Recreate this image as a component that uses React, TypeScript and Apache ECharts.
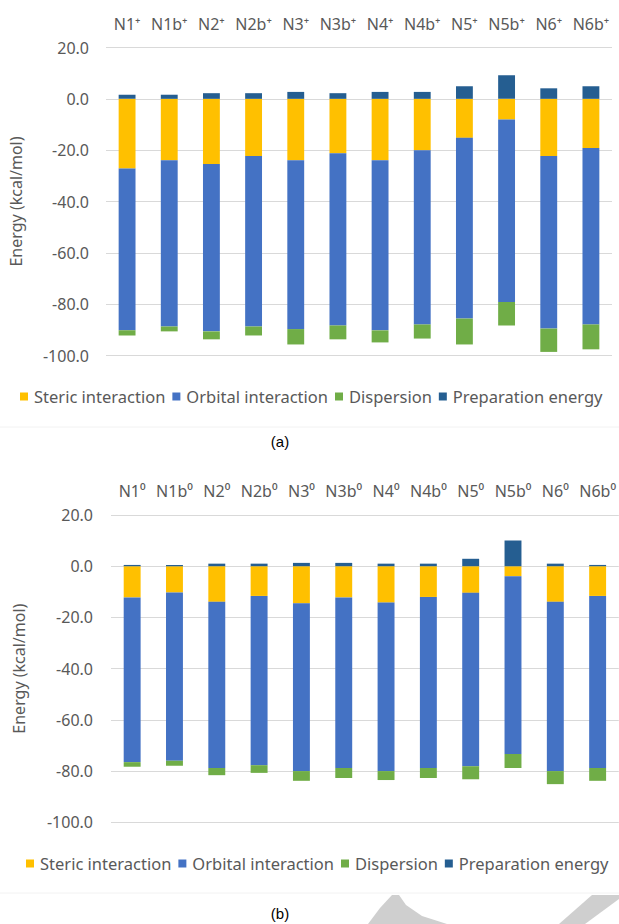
import React, { useEffect, useRef } from "react";
import * as echarts from "echarts";

const categoriesA = ["N1⁺", "N1b⁺", "N2⁺", "N2b⁺", "N3⁺", "N3b⁺", "N4⁺", "N4b⁺", "N5⁺", "N5b⁺", "N6⁺", "N6b⁺"];
const categoriesB = ["N1⁰", "N1b⁰", "N2⁰", "N2b⁰", "N3⁰", "N3b⁰", "N4⁰", "N4b⁰", "N5⁰", "N5b⁰", "N6⁰", "N6b⁰"];

const seriesNames = ["Steric interaction", "Orbital interaction", "Dispersion", "Preparation energy"];

// Chart (a)
const stericA = [-27.1, -23.9, -25.4, -22.3, -23.9, -21.2, -23.9, -20.0, -15.2, -8.1, -22.3, -19.2];
const orbitalA = [-63.1, -64.8, -65.2, -66.4, -65.8, -67.1, -66.3, -67.9, -70.4, -71.1, -67.2, -68.7];
const dispersionA = [-2.0, -1.9, -3.1, -3.5, -6.0, -5.4, -4.7, -5.5, -10.1, -9.1, -9.1, -9.7];
const preparationA = [1.6, 1.6, 2.2, 2.2, 2.7, 2.2, 2.7, 2.7, 4.9, 9.2, 4.1, 4.9];

// Chart (b)
const stericB = [-12.2, -10.3, -13.9, -11.6, -14.5, -12.2, -14.2, -12.0, -10.4, -3.9, -13.9, -11.6];
const orbitalB = [-64.3, -65.7, -64.9, -66.1, -65.5, -66.6, -65.8, -66.8, -67.7, -69.4, -66.1, -67.2];
const dispersionB = [-1.8, -1.9, -2.8, -3.0, -3.8, -3.9, -3.5, -3.9, -5.1, -5.5, -5.1, -5.0];
const preparationB = [0.5, 0.5, 1.0, 1.0, 1.3, 1.3, 1.0, 1.0, 2.9, 10.0, 1.0, 0.5];

const yMin = -100;
const yMax = 20;
const yStep = 20;

const colors = ["#FFC000", "#4472C4", "#70AD47", "#255E91"];
const FONT = "Noto Sans";
const TEXT = "#595959";
const FS = 16;

export default function App() {
  const ref = useRef<HTMLDivElement>(null);
  useEffect(() => {
    if (!ref.current) return;
    const chart = echarts.init(ref.current, undefined, { renderer: "svg" });

    const makeSeries = (data: number[][], idx: number, stack: string) =>
      data.map((d, i) => ({
        name: seriesNames[i],
        type: "bar",
        stack,
        xAxisIndex: idx,
        yAxisIndex: idx,
        barWidth: "40%",
        data: d,
        itemStyle: { color: colors[i] },
      }));

    const xAx = (idx: number, cats: string[]) => ({
      type: "category",
      gridIndex: idx,
      position: "top",
      data: cats,
      axisLine: { show: false, onZero: false },
      axisTick: { show: false },
      axisLabel: { margin: 16, color: TEXT, fontSize: FS, fontFamily: FONT, interval: 0 },
    });
    const yAx = (idx: number, margin: number, nameGap: number) => ({
      type: "value",
      gridIndex: idx,
      min: yMin,
      max: yMax,
      interval: yStep,
      axisLine: { show: false },
      axisTick: { show: false },
      axisLabel: {
        margin,
        color: TEXT,
        fontSize: FS,
        fontFamily: FONT,
        formatter: (v: number) => v.toFixed(1),
      },
      splitLine: { lineStyle: { color: "#D9D9D9", width: 1 } },
      name: "Energy (kcal/mol)",
      nameLocation: "middle",
      nameGap,
      nameTextStyle: { color: TEXT, fontSize: FS, fontFamily: FONT },
    });
    const legend = (left: number, top: number, gap: number) => ({
      left,
      top,
      icon: "rect",
      itemWidth: 8,
      itemHeight: 8,
      itemGap: gap,
      data: seriesNames,
      textStyle: { color: TEXT, fontSize: 16.5, fontFamily: FONT, padding: [0, 0, 0, 1] },
    });

    chart.setOption({
      animation: false,
      backgroundColor: "#ffffff",
      grid: [
        { left: 105, right: 7, top: 47.5, height: 308 },
        { left: 111, right: 0, top: 515, height: 307.3 },
      ],
      xAxis: [xAx(0, categoriesA), xAx(1, categoriesB)],
      yAxis: [yAx(0, 17, 82), yAx(1, 18, 84)],
      legend: [legend(15, 383, 7), legend(21, 850, 7)],
      series: [
        ...makeSeries([stericA, orbitalA, dispersionA, preparationA], 0, "a"),
        ...makeSeries([stericB, orbitalB, dispersionB, preparationB], 1, "b"),
      ],
      graphic: [
        { type: "line", shape: { x1: 0, y1: 427, x2: 619, y2: 427 }, style: { stroke: "#F2F2F2", lineWidth: 1 } },
        { type: "line", shape: { x1: 0, y1: 893, x2: 619, y2: 893 }, style: { stroke: "#F2F2F2", lineWidth: 1 } },
        {
          type: "text",
          x: 280,
          y: 441,
          style: { text: "(a)", fontSize: 15, fontFamily: "Liberation Sans", fill: "#000", align: "center", verticalAlign: "middle" },
        },
        {
          type: "polygon",
          shape: { points: [[392, 895], [399, 895], [406, 905], [422, 916], [447, 924], [368, 924], [380, 908]] },
          style: { fill: "#CFCFCF" },
          z: -1,
        },
        {
          type: "polygon",
          shape: { points: [[592, 895], [619, 895], [619, 899], [585, 924], [559, 924]] },
          style: { fill: "#CFCFCF" },
          z: -1,
        },
        {
          type: "text",
          x: 280,
          y: 913,
          style: { text: "(b)", fontSize: 15, fontFamily: "Liberation Sans", fill: "#000", align: "center", verticalAlign: "middle" },
        },
      ],
    });
    return () => chart.dispose();
  }, []);
  return (
    <div
      ref={ref}
      style={{ position: "absolute", left: 0, top: 0, width: 619, height: 924 }}
    />
  );
}
